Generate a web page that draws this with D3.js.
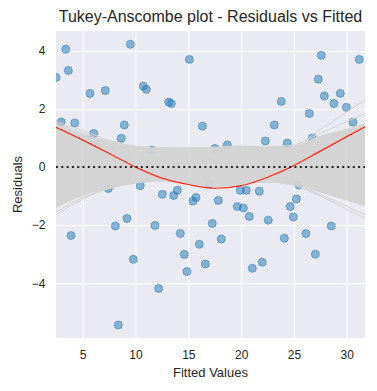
<!DOCTYPE html>
<html>
<head>
<meta charset="utf-8">
<script src="https://cdn.jsdelivr.net/npm/d3@7"></script>
<style>
    body { margin: 0; background: #fff; }
    text { font-family: Arial, "Liberation Sans", sans-serif; fill: #262626; }
</style>
</head>
<body>
<div id="chart"></div>
<script>
const fitted = [
    2.47, 3.39, 3.64, 2.97, 4.24, 5.69, 7.14, 6.04, 8.65, 8.94,
    9.51, 10.74, 11.02, 13.14, 13.39, 15.1, 11.55, 10.45, 16.33, 17.53,
    18.69, 16.99, 22.29, 23.14, 23.8, 24.37, 26.46, 26.74, 27.31, 27.59,
    27.88, 28.79, 29.39, 29.96, 30.59, 31.19, 7.42, 12.54, 13.61, 13.96,
    15.44, 15.73, 3.89, 8.09, 9.19, 11.84, 14.24, 9.79, 14.62, 14.87,
    12.19, 8.37, 17.84, 19.64, 20.21, 19.92, 20.49, 21.72, 20.77, 22.57,
    17.27, 18.12, 16.04, 16.61, 21.06, 22.0, 25.23, 24.66, 24.94, 24.09,
    26.14, 28.54, 27.03, 25.48
];
const residuals = [
    3.09, 4.06, 3.33, 1.55, 1.52, 2.54, 2.64, 1.16, 0.99, 1.45,
    4.23, 2.79, 2.68, 2.24, 2.19, 3.71, 0.58, -0.64, 1.41, 0.64,
    0.76, -0.58, 0.9, 1.45, 2.26, 0.83, 1.85, 1.0, 3.03, 3.85,
    2.45, 2.19, 2.54, 2.06, 1.55, 3.71, -0.74, -0.94, -0.98, -0.8,
    -1.17, -1.05, -2.36, -2.03, -1.77, -2.01, -2.29, -3.18, -3.01, -3.6,
    -4.18, -5.44, -1.15, -1.36, -1.41, -0.8, -0.8, -0.83, -1.7, -1.83,
    -1.94, -2.48, -2.66, -3.34, -3.49, -3.28, -1.1, -1.36, -1.72, -2.45,
    -2.29, -2.03, -3.0, -0.62
];

// lowess fit and the spread of the bootstrap fits
const curveX = [2.47, 5, 7.5, 10, 12.5, 15, 17.5, 20, 22.5, 24.7, 27.5, 30, 31.73];
const lowessY = [1.37, 0.93, 0.47, 0.0, -0.38, -0.6, -0.73, -0.64, -0.35, 0.0, 0.55, 1.05, 1.39];
const bandUpper = [1.48, 1.15, 0.86, 0.7, 0.65, 0.66, 0.68, 0.72, 0.68, 0.71, 1.08, 1.32, 1.5];
const bandLower = [-1.4, -1.0, -0.72, -0.54, -0.47, -0.56, -0.66, -0.58, -0.52, -0.57, -0.88, -1.15, -1.36];
const strayLines = [
    [1.56, 1.26, 0.92, 0.72, 0.66, 0.66, 0.68, 0.72, 0.68, 0.7, 1.3, 1.89, 2.31],
    [1.5, 1.18, 0.88, 0.71, 0.65, 0.66, 0.68, 0.72, 0.7, 0.75, 1.16, 1.57, 1.85],
    [-1.65, -1.1, -0.74, -0.55, -0.47, -0.56, -0.66, -0.58, -0.52, -0.6, -1.0, -1.45, -1.77],
    [-1.55, -1.05, -0.72, -0.54, -0.47, -0.56, -0.66, -0.58, -0.52, -0.58, -0.95, -1.35, -1.65]
];

const xTicks = [5, 10, 15, 20, 25, 30];
const yTicks = [-4, -2, 0, 2, 4];

const width = 377;
const height = 391;
const plot = { left: 56, right: 365, top: 31, bottom: 338 };

const svg = d3.select('#chart').append('svg')
    .attr('width', width)
    .attr('height', height);

const x = d3.scaleLinear().domain([2.47, 31.73]).range([plot.left, plot.right]);
const y = d3.scaleLinear().domain([-5.89, 4.69]).range([plot.bottom, plot.top]);

svg.append('clipPath')
    .attr('id', 'plot-clip')
    .append('rect')
    .attr('x', plot.left)
    .attr('y', plot.top)
    .attr('width', plot.right - plot.left)
    .attr('height', plot.bottom - plot.top);

svg.append('rect')
    .attr('x', plot.left)
    .attr('y', plot.top)
    .attr('width', plot.right - plot.left)
    .attr('height', plot.bottom - plot.top)
    .style('fill', '#eaeaf2');

// grid + ticks
const xAxis = svg.append('g')
    .attr('transform', 'translate(0,' + plot.bottom + ')')
    .call(d3.axisBottom(x).tickValues(xTicks).tickSize(-(plot.bottom - plot.top)).tickPadding(12));
const yAxis = svg.append('g')
    .attr('transform', 'translate(' + plot.left + ',0)')
    .call(d3.axisLeft(y).tickValues(yTicks).tickSize(-(plot.right - plot.left)).tickPadding(10.5)
        .tickFormat(d => d3.format('d')(d).replace('-', '\u2212')));

[xAxis, yAxis].forEach(a => {
    a.select('.domain').remove();
    a.selectAll('.tick line').style('stroke', '#fff').style('stroke-width', 1);
    a.selectAll('.tick text').style('font-size', '12px').style('fill', '#262626');
});

const inner = svg.append('g').attr('clip-path', 'url(#plot-clip)');

inner.selectAll('circle')
    .data(fitted.map((f, i) => [f, residuals[i]]))
    .join('circle')
    .attr('cx', d => x(d[0]))
    .attr('cy', d => y(d[1]))
    .attr('r', 4)
    .style('fill', '#1f77b4')
    .style('fill-opacity', 0.5)
    .style('stroke', '#1f77b4')
    .style('stroke-opacity', 0.5)
    .style('stroke-width', 1);

const band = d3.area()
    .x((d, i) => x(curveX[i]))
    .y0((d, i) => y(bandLower[i]))
    .y1((d, i) => y(bandUpper[i]))
    .curve(d3.curveMonotoneX);

inner.append('path')
    .attr('d', band(curveX))
    .style('fill', '#d3d3d3')
    .style('fill-opacity', 0.95);

const line = d3.line()
    .x((d, i) => x(curveX[i]))
    .y(d => y(d))
    .curve(d3.curveMonotoneX);

strayLines.forEach(s => {
    inner.append('path')
        .attr('d', line(s))
        .style('fill', 'none')
        .style('stroke', '#d3d3d3')
        .style('stroke-width', 1);
});

inner.append('path')
    .attr('d', line(lowessY))
    .style('fill', 'none')
    .style('stroke', '#ff2a1a')
    .style('stroke-width', 1.2);

inner.append('line')
    .attr('x1', plot.left)
    .attr('x2', plot.right)
    .attr('y1', y(0))
    .attr('y2', y(0))
    .style('stroke', '#222')
    .style('stroke-width', 2)
    .style('stroke-dasharray', '2,3.3');

svg.append('text')
    .attr('x', (plot.left + plot.right) / 2)
    .attr('y', 21.5)
    .attr('text-anchor', 'middle')
    .style('font-size', '16px')
    .text('Tukey-Anscombe plot - Residuals vs Fitted');

svg.append('text')
    .attr('x', (plot.left + plot.right) / 2)
    .attr('y', 377)
    .attr('text-anchor', 'middle')
    .style('font-size', '13px')
    .text('Fitted Values');

svg.append('text')
    .attr('transform', 'translate(21.5,' + (plot.top + plot.bottom) / 2 + ') rotate(-90)')
    .attr('text-anchor', 'middle')
    .style('font-size', '13px')
    .text('Residuals');
</script>
</body>
</html>
